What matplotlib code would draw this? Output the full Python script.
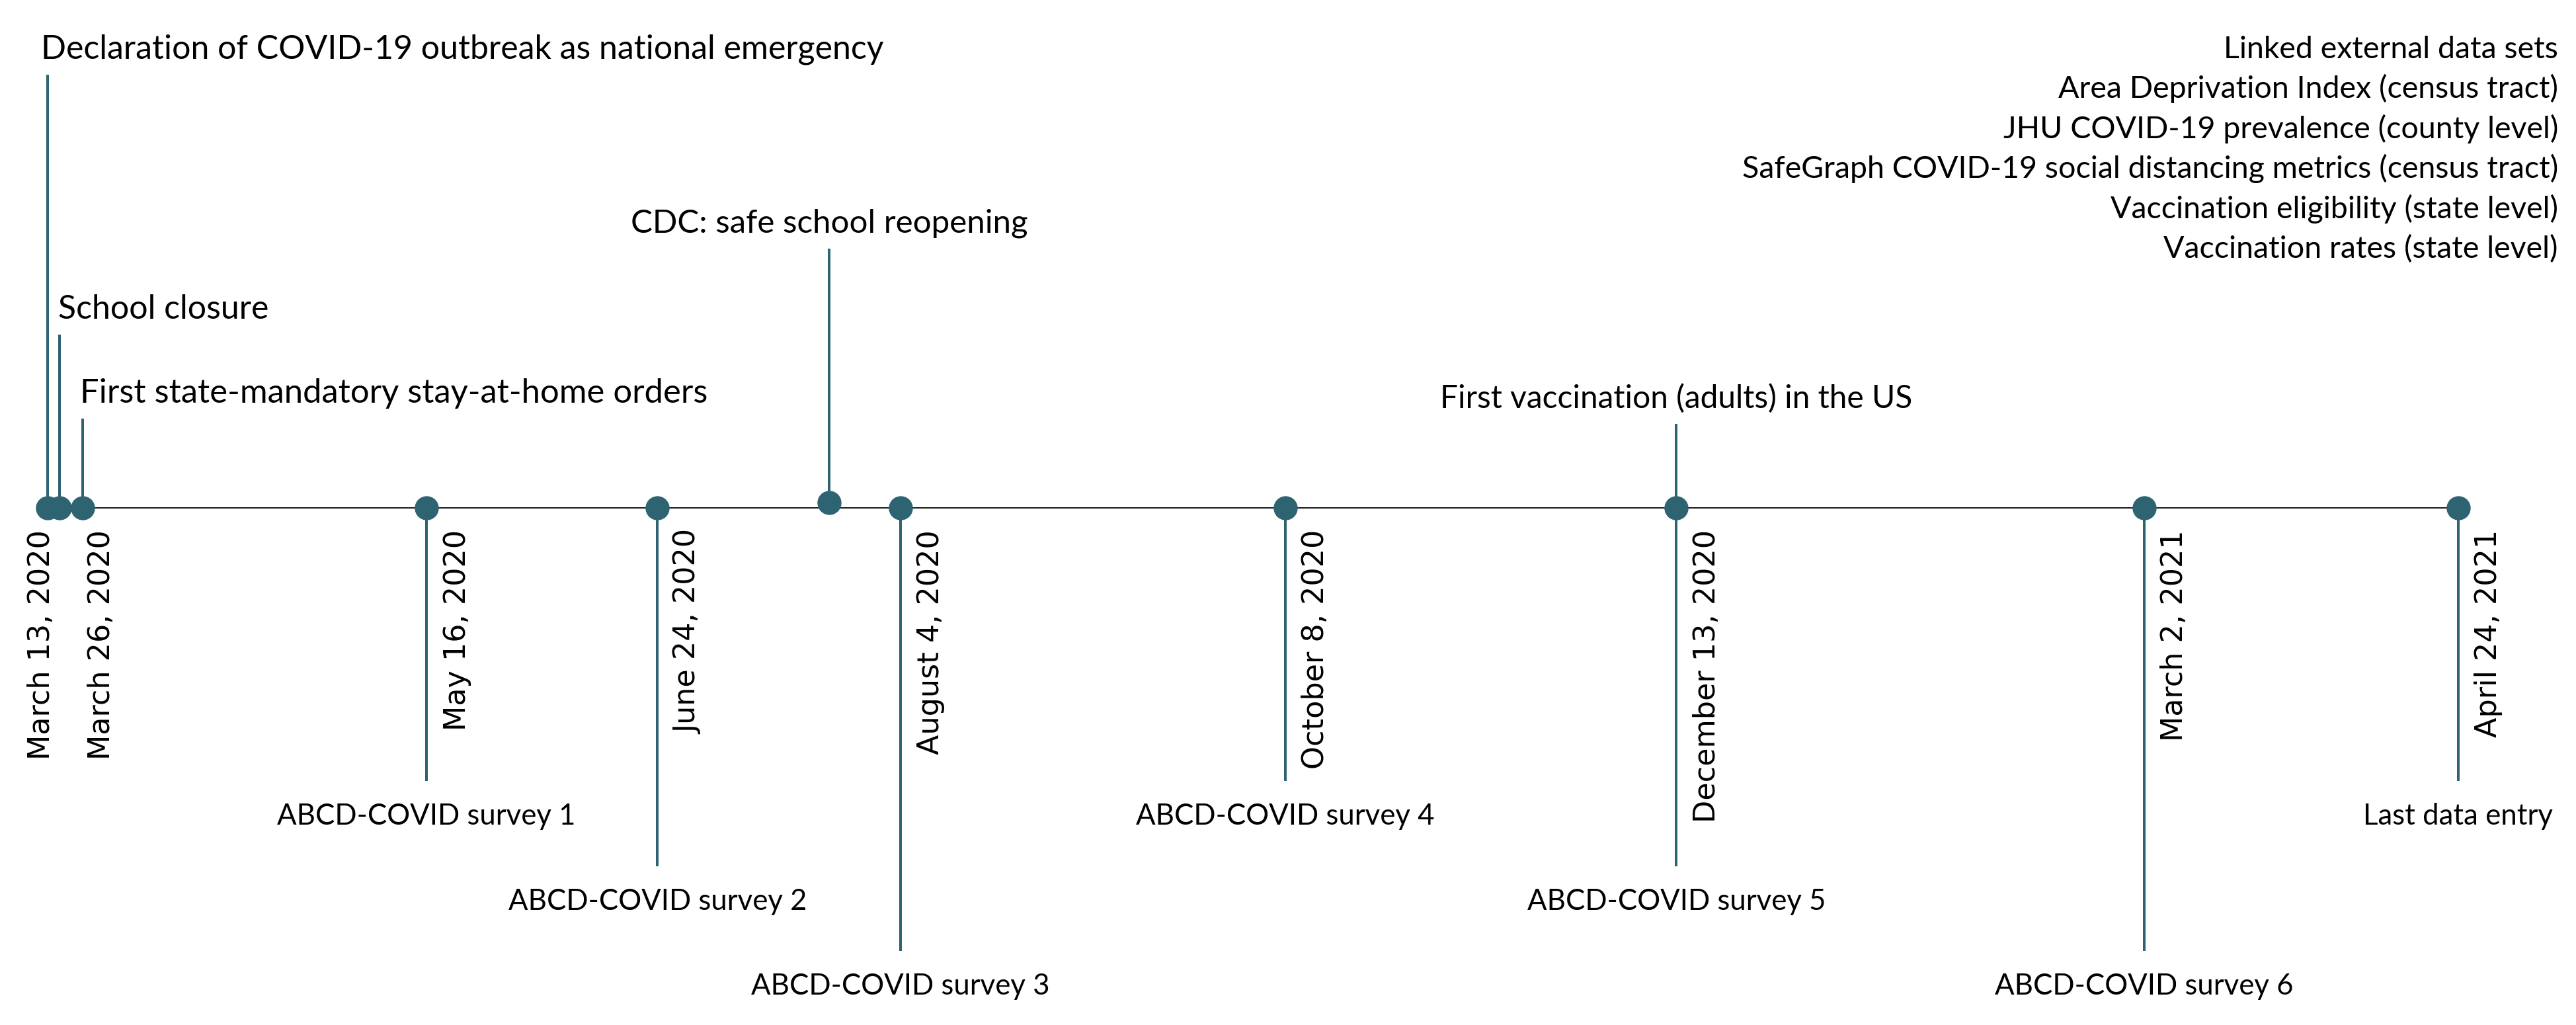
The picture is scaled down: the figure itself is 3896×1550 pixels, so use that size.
import matplotlib
matplotlib.use("Agg")
import matplotlib.pyplot as plt
import matplotlib.dates as mdates
import numpy as np
from datetime import datetime

# ---------------- data ----------------
event_dates = ["2020-03-13", "2020-03-15", "2020-03-19", "2020-05-16", "2020-06-24",
               "2020-07-23", "2020-08-04", "2020-10-08", "2020-12-13", "2021-03-02",
               "2021-04-24"]
top_labels = ["Declaration of COVID-19 outbreak as national emergency", "School closure",
              "First state-mandatory stay-at-home orders", "", "",
              "CDC: safe school reopening", "", "", "First vaccination (adults) in the US",
              "", ""]
bottom_labels = ["", "", "", "ABCD-COVID survey 1", "ABCD-COVID survey 2", "",
                 "ABCD-COVID survey 3", "ABCD-COVID survey 4", "ABCD-COVID survey 5",
                 "ABCD-COVID survey 6", "Last data entry"]
date_labels = ["March 13, 2020", "", "March 26, 2020", "May 16, 2020", "June 24, 2020", "",
               "August 4, 2020", "October 8, 2020", "December 13, 2020", "March 2, 2021",
               "April 24, 2021"]
external_data = ["Linked external data sets",
                 "Area Deprivation Index (census tract)",
                 "JHU COVID-19 prevalence (county level)",
                 "SafeGraph COVID-19 social distancing metrics (census tract)",
                 "Vaccination eligibility (state level)",
                 "Vaccination rates (state level)"]

# ---------------- layout (pixels) ----------------
W, H, DPI = 3896, 1550, 100
AXIS_PX = 768                      # axis line position from top
top_stem = [655, 262, 135, 0, 0, 392, 0, 0, 127, 0, 0]
bot_stem = [0, 0, 0, 413, 542, 0, 670, 413, 542, 670, 413]
top_text_dx = [-10, -2, -4, 0, 0, 0, 0, 0, 0, 0, 0]       # px
top_ha = ["left", "left", "left", "center", "center", "center", "center", "center",
          "center", "center", "center"]
top_fs = [36, 36, 36.5, 36, 36, 35.5, 36, 36, 34.5, 36, 36]
dot_dy = [0, 0, 0, 0, 0, 8, 0, 0, 0, 0, 0]
date_dx = [-9, 0, 28, 46, 46, 0, 46, 46, 46, 46, 46]
BOT_FS = 31.5
RIGHT_FS = 33.5

TEAL = "#2E6472"
px2pt = 72.0 / DPI

fig = plt.figure(figsize=(W / DPI, H / DPI), dpi=DPI)
ax = fig.add_axes([0, 0, 1, 1])
ax.set_axis_off()

x = mdates.date2num([datetime.strptime(d, "%Y-%m-%d") for d in event_dates])
px_per_day = (3717.7 - 71.7) / (x[-1] - x[0])
ax.set_xlim(x[0] - 71.7 / px_per_day, x[0] + (W - 71.7) / px_per_day)
ax.set_ylim(-(H - AXIS_PX), AXIS_PX)

label_font = "Lato"

# axis line
ax.plot([x[0], x[-1]], [0, 0], color="#1a1a1a", lw=2 * px2pt, zorder=1,
        solid_capstyle="butt")

for i in range(len(x)):
    y0 = dot_dy[i]
    if top_stem[i]:
        ax.plot([x[i], x[i]], [y0, top_stem[i]], color=TEAL, lw=4 * px2pt, zorder=2,
                solid_capstyle="butt")
        ax.annotate(top_labels[i], (x[i], top_stem[i]),
                    xytext=(top_text_dx[i] * px2pt, 24 * px2pt), textcoords="offset points",
                    ha=top_ha[i], va="baseline", fontsize=top_fs[i], family=label_font,
                    color="black")
    if bot_stem[i]:
        ax.plot([x[i], x[i]], [y0, -bot_stem[i]], color=TEAL, lw=4 * px2pt, zorder=2,
                solid_capstyle="butt")
        ax.annotate(bottom_labels[i], (x[i], -bot_stem[i]),
                    xytext=(0, -66 * px2pt), textcoords="offset points",
                    ha="center", va="baseline", fontsize=BOT_FS, family=label_font,
                    color="black")
    ax.plot([x[i]], [y0], "o", ms=35 * px2pt, color=TEAL, mec=TEAL, zorder=3)
    if date_labels[i]:
        ax.annotate(date_labels[i], (x[i], 0),
                    xytext=(date_dx[i] * px2pt, -33 * px2pt), textcoords="offset points",
                    rotation=90, ha="center", va="top", fontsize=32,
                    family="DejaVu Sans", color="black")

for j, t in enumerate(external_data):
    fig.text(3869 / W, 1 - (88 + 60.4 * j) / H, t, ha="right", va="baseline",
             fontsize=RIGHT_FS, family=label_font, color="black")

fig.savefig("out.png", dpi=DPI, facecolor="white")
